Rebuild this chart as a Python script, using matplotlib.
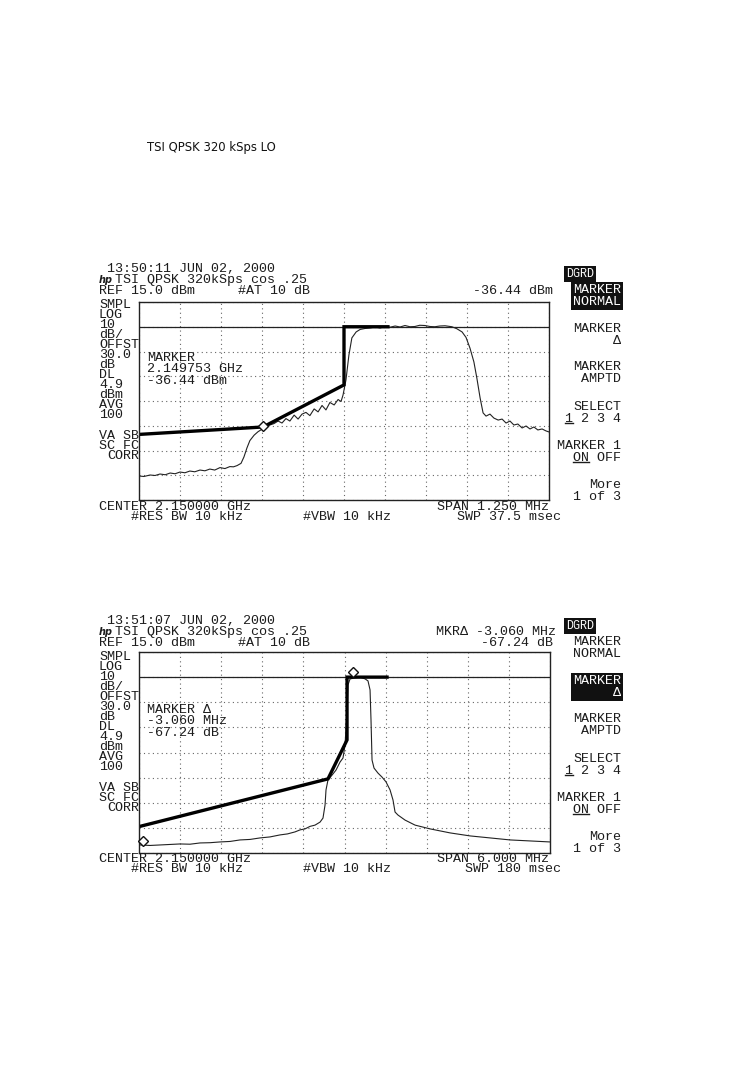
import matplotlib
matplotlib.use('Agg')
import matplotlib.pyplot as plt
import matplotlib.transforms as mtransforms
import numpy as np

# ---------------- data ----------------
REF_LEVEL = 15.0      # dBm (top of screen)
DB_PER_DIV = 10.0
DISPLAY_LINE = 4.9    # dBm

# upper sweep: span 1.250 MHz, offsets in kHz from 2.150000 GHz
top_span_khz = 1250
top_freq_khz = [-625, -610, -591, -576, -561, -545, -530, -515, -500, -485, -470, -455, -439,
                -424, -409, -394, -378, -363, -348, -337, -326, -314, -305,
                -296, -287, -274, -262, -250, -238, -226, -213, -201, -189, -177, -165, -152,
                -140, -128, -116, -104, -91, -79, -67, -55, -43, -30, -18, -9, -3, 6, 15, 24,
                37, 49, 64, 79, 95, 110, 125, 140, 156, 171, 186, 201, 216, 231, 247, 262,
                277, 292, 308, 329, 344, 360, 372,
                384, 396, 405, 415, 424, 433, 445, 457, 470, 482, 494, 506, 518, 530, 543,
                555, 567, 579, 591, 604, 616, 625]
top_level_dbm = [-55.3, -55.5, -54.9, -55.1, -54.5, -54.8, -54.1, -54.4, -53.7, -54.0, -53.3,
                 -53.6, -52.9, -53.2, -52.5, -52.9, -51.9, -52.3, -51.5, -51.6, -51.1,
                 -50.2, -47.6, -44.0, -41.0, -38.8, -37.4, -36.4, -35.3, -34.7, -34.1, -33.1,
                 -33.9, -32.1, -33.1, -30.7, -32.3, -30.3, -29.6, -30.9, -28.2, -29.4, -26.8,
                 -28.6, -25.6, -26.6, -24.4, -25.2, -22.6, -16.5, -6.4, 0.5, 2.9, 3.9, 4.3,
                 4.5, 4.9, 4.5, 5.1, 4.8, 5.3, 4.9, 5.5, 5.0, 5.1, 5.6, 5.5, 5.1, 5.0, 5.3,
                 5.4, 5.0, 4.2, 2.9, 0.7, -3.6, -9.2,
                 -15.7, -23.8, -29.8, -31.1, -30.3, -31.9, -32.7, -32.3, -33.9, -33.1, -34.7,
                 -34.3, -35.9, -35.1, -36.3, -35.5, -36.7, -36.3, -37.1, -37.5]
top_mask_khz = [-625, -247, 0, 0, 134]
top_mask_dbm = [-38.5, -35.5, -18.5, 5.0, 5.0]
top_marker_khz, top_marker_dbm = -247, -36.44

# lower sweep: span 6.000 MHz, offsets in kHz from 2.150000 GHz
bot_span_khz = 6000
bot_freq_khz = [-2985, -2839, -2693, -2547, -2401, -2255, -2109, -1963, -1817, -1671, -1525,
                -1379, -1233, -1087, -941, -832, -722, -649, -576, -503, -430,
                -357, -314, -284, -270, -241, -182, -124, -65, -22, 8, 37, 51, 81, 154, 227,
                300, 343, 373, 387, 402, 431, 489, 548, 606, 665, 708, 738, 781, 884, 1030,
                1249, 1541, 1833, 2125, 2417, 2709, 3000]
bot_level_dbm = [-61.8, -62.0, -61.8, -61.6, -61.4, -61.5, -61.0, -60.9, -60.6, -60.4, -59.8,
                 -59.6, -59.0, -58.6, -57.8, -57.4, -56.6, -55.8, -55.4, -54.4, -53.9,
                 -52.7, -51.1, -45.9, -39.9, -35.9, -34.0, -32.0, -28.8, -27.2, -22.0, -8.1,
                 1.9, 4.3, 4.7, 5.0, 4.3, 3.5, -0.1, -12.1, -28.0, -31.2, -33.2, -34.8, -36.7,
                 -39.9, -43.9, -48.7, -49.9, -51.9, -53.9, -55.4, -57.0, -58.2, -59.0, -59.8,
                 -60.2, -60.6]
bot_mask_khz = [-3000, -241, 37, 37, 621]
bot_mask_dbm = [-54.5, -35.5, -20.0, 5.0, 5.0]
bot_ref_marker = (124, 5.0)
bot_delta_marker = (-2936, -62.24)

# ---------------- figure ----------------
W, H, DPI = 744, 1078, 100
fig = plt.figure(figsize=(W / DPI, H / DPI), dpi=DPI)
fig.patch.set_facecolor('white')

ov = fig.add_axes([0, 0, 1, 1])
ov.set_xlim(0, W)
ov.set_ylim(H, 0)
ov.axis('off')
ov.set_zorder(5)
ov.patch.set_alpha(0)

MONO = ['Liberation Mono', 'DejaVu Sans Mono']
FS = 9.6
TC = '#1c1c1c'


def t(x, y, s, ha='left', inv=False, **kw):
    kws = dict(ha=ha, va='center', family=MONO, size=FS, color=TC)
    kws.update(kw)
    if inv:
        kws['color'] = 'white'
        kws['bbox'] = dict(boxstyle='square,pad=0.15', fc='#111', ec='none')
    return ov.text(x, y, s, **kws)


def add_screen(frame, span, freq, level, mk, mv):
    x0, y0, x1, y1 = frame
    ax = fig.add_axes([x0 / W, 1 - y1 / H, (x1 - x0) / W, (y1 - y0) / H])
    ax.set_xlim(-span / 2, span / 2)
    ax.set_ylim(REF_LEVEL - 8 * DB_PER_DIV, REF_LEVEL)
    ax.set_xticks(np.linspace(-span / 2, span / 2, 11))
    ax.set_yticks(np.arange(REF_LEVEL - 8 * DB_PER_DIV, REF_LEVEL + 1, DB_PER_DIV))
    ax.tick_params(length=0, labelbottom=False, labelleft=False)
    ax.grid(True, ls=(0, (1, 3)), lw=0.8, color='#666')
    for s in ax.spines.values():
        s.set_linewidth(1.0)
        s.set_color('#222')
    ax.axhline(DISPLAY_LINE, color='#222', lw=0.9)
    ax.plot(freq, level, color='#222', lw=0.8)
    ax.plot(mk, mv, color='black', lw=2.4, solid_joinstyle='miter')
    return ax


# ---------- upper screen ----------
ax1 = add_screen((139, 302, 549, 500), top_span_khz, top_freq_khz, top_level_dbm,
                 top_mask_khz, top_mask_dbm)
off1 = mtransforms.offset_copy(ax1.transData, fig=fig, x=0, y=3, units='dots')
ax1.plot([top_marker_khz], [top_marker_dbm], marker='D', ms=5, mfc='white', mec='#111',
         mew=1.0, ls='none', zorder=6, transform=off1)

# ---------- lower screen ----------
ax2 = add_screen((139, 652, 550, 853), bot_span_khz, bot_freq_khz, bot_level_dbm,
                 bot_mask_khz, bot_mask_dbm)
off2 = mtransforms.offset_copy(ax2.transData, fig=fig, x=0, y=5, units='dots')
ax2.plot([bot_ref_marker[0], bot_delta_marker[0]], [bot_ref_marker[1], bot_delta_marker[1]],
         marker='D', ms=5, mfc='white', mec='#111', mew=1.0, ls='none', transform=off2,
         zorder=6, clip_on=False)

# ---------- title ----------
ov.text(147, 147, 'TSI QPSK 320 kSps LO', ha='left', va='center', family='DejaVu Sans',
        size=8.4, color='#111')


def screen_text(dy, stamp, right1, right2, mtext, span_txt, swp_txt, active):
    # header
    t(107, 269 + dy, '13:5' + stamp + ' JUN 02, 2000')
    ov.text(99, 280 + dy, 'hp', ha='left', va='center', family='DejaVu Sans', size=7,
            style='italic', weight='bold', color=TC)
    t(115, 280 + dy, 'TSI QPSK 320kSps cos .25')
    t(99, 291 + dy, 'REF 15.0 dBm')
    t(238, 291 + dy, '#AT 10 dB')
    if right1:
        t(556, 280 + dy, right1, ha='right')
    t(553, 291 + dy, right2, ha='right')
    # left annotation column
    labels = ['SMPL', 'LOG', '10', 'dB/', 'OFFST', '30.0', 'dB', 'DL', '4.9', 'dBm', 'AVG',
              '100']
    for i, s in enumerate(labels):
        t(99, 305 + dy + 10 * i, s)
    t(99, 436 + dy, 'VA SB')
    t(99, 446 + dy, 'SC FC')
    t(107, 456 + dy, 'CORR')
    # marker readout
    for i, s in enumerate(mtext):
        t(147, 358 + dy + 11.5 * i, s)
    # bottom annotations
    t(99, 507 + dy, 'CENTER 2.150000 GHz')
    t(131, 517 + dy, '#RES BW 10 kHz')
    t(303, 517 + dy, '#VBW 10 kHz')
    t(549, 507 + dy, span_txt, ha='right')
    t(561, 517 + dy, swp_txt, ha='right')
    # softkeys
    t(566, 274 + dy, 'DGRD', inv=True, size=8.5)
    keys = [(296, 'MARKER\nNORMAL'), (335, 'MARKER\nΔ'), (373, 'MARKER\nAMPTD'),
            (413, 'SELECT\n1 2 3 4'), (452, 'MARKER 1\nON OFF'), (491, 'More\n1 of 3')]
    for i, (yy, s) in enumerate(keys):
        t(621, yy + dy, s, ha='right', inv=(i == active), linespacing=0.95)
    # underlines on "1" and "ON"
    ov.plot([565, 573], [423 + dy, 423 + dy], color=TC, lw=1)
    ov.plot([573, 589], [462 + dy, 462 + dy], color=TC, lw=1)


screen_text(0, '0:11', None, '-36.44 dBm',
            ['MARKER', '2.149753 GHz', '-36.44 dBm'],
            'SPAN 1.250 MHz', 'SWP 37.5 msec', 0)
screen_text(352, '1:07', 'MKRΔ -3.060 MHz', '-67.24 dB',
            ['MARKER Δ', '-3.060 MHz', '-67.24 dB'],
            'SPAN 6.000 MHz', 'SWP 180 msec', 1)

fig.savefig('out.png', dpi=DPI, facecolor='white')
